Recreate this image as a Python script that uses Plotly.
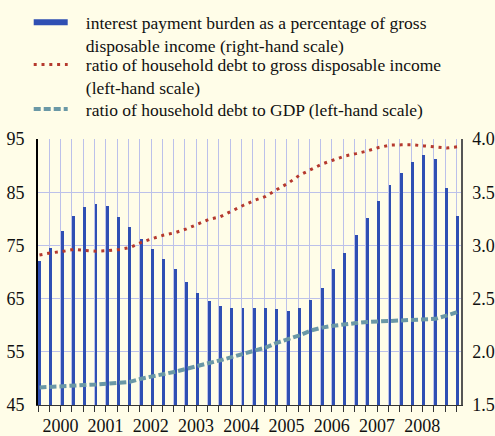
import plotly.graph_objects as go

# quarterly data, 2000 Q1 - 2009 Q2
quarters = [f"{y} Q{q}" for y in range(2000, 2010) for q in range(1, 5)][:38]
years = ["2000", "2001", "2002", "2003", "2004", "2005", "2006", "2007", "2008"]

# interest payment burden, % of gross disposable income (right-hand scale)
interest_burden = [2.85, 2.98, 3.14, 3.28, 3.36, 3.39, 3.37, 3.27, 3.17, 3.06,
                   2.97, 2.87, 2.78, 2.66, 2.55, 2.48, 2.43, 2.41, 2.41, 2.41,
                   2.41, 2.40, 2.38, 2.41, 2.49, 2.60, 2.78, 2.93, 3.10, 3.26,
                   3.42, 3.57, 3.68, 3.78, 3.85, 3.81, 3.54, 3.28]

# household debt to gross disposable income (left-hand scale)
debt_to_income = [73.2, 73.6, 73.85, 74.25, 74.05, 73.9, 74.0, 74.2, 74.6, 75.55,
                  76.3, 76.95, 77.4, 78.1, 79.0, 79.9, 80.4, 81.5, 82.5, 83.45,
                  84.2, 85.5, 86.7, 88.2, 89.2, 90.3, 91.05, 91.8, 92.25, 92.75,
                  93.4, 93.85, 93.9, 93.9, 93.7, 93.5, 93.3, 93.55]

# household debt to GDP (left-hand scale)
debt_to_gdp = [48.3, 48.45, 48.55, 48.65, 48.75, 48.85, 49.0, 49.1, 49.35, 49.95,
               50.35, 50.8, 51.25, 51.8, 52.4, 52.9, 53.4, 54.0, 54.7, 55.2,
               55.8, 56.7, 57.4, 58.1, 59.0, 59.55, 59.9, 60.2, 60.4, 60.6,
               60.7, 60.8, 60.8, 60.9, 60.95, 61.2, 61.8, 62.5]

legend_names = [
    ['interest payment burden as a percentage of gross',
     'disposable income (right-hand scale)'],
    ['ratio of household debt to gross disposable income',
     '(left-hand scale)'],
    ['ratio of household debt to GDP (left-hand scale)'],
]

blue = '#2f4fb3'
red = '#b5392e'
teal = '#6a98a6'
grid = '#bcc1ea'
bg = '#fffde8'
font = 'Liberation Serif, Times New Roman, serif'

qx = list(range(len(quarters)))
year_pos = [4 * i + 1.85 for i in range(len(years))]
grid_pos = [k - 0.13 for k in qx]


def legend_label(lines):
    # a little extra room between the key and the text
    pad = '\u00a0\u00a0\u00a0'
    return '<br>'.join(pad + s for s in lines)


def legend_box(ytop):
    # one legend per series so the rows can sit with even spacing
    return dict(
        xref='container', yref='container', x=0.058, y=ytop,
        xanchor='left', yanchor='top', valign='top',
        font=dict(family=font, size=17.5, color='#111'),
        bgcolor='rgba(0,0,0,0)', itemwidth=34
    )


fig = go.Figure()

fig.add_trace(go.Bar(
    x=qx, y=interest_burden, yaxis='y',
    width=0.26, marker=dict(color=blue, line=dict(width=0)),
    showlegend=False, name='interest payment burden'
))

# legend-only entry so the bar series gets a wide flat key
fig.add_trace(go.Scatter(
    x=[None], y=[None], mode='lines',
    line=dict(color=blue, width=6),
    name=legend_label(legend_names[0]), legend='legend'
))

fig.add_trace(go.Scatter(
    x=qx, y=debt_to_income, yaxis='y2', mode='lines',
    line=dict(color=red, width=3, dash='3px,4.8px'),
    name=legend_label(legend_names[1]), legend='legend2'
))

fig.add_trace(go.Scatter(
    x=qx, y=debt_to_gdp, yaxis='y2', mode='lines',
    line=dict(color=teal, width=4, dash='7px,3px'),
    name=legend_label(legend_names[2]), legend='legend3'
))

fig.update_layout(
    width=495, height=436,
    margin=dict(l=38, r=34, t=139, b=31, autoexpand=False),
    paper_bgcolor=bg, plot_bgcolor=bg,
    font=dict(family=font, size=18, color='#111'),
    showlegend=True,
    legend=legend_box(0.990),
    legend2=legend_box(0.893),
    legend3=legend_box(0.791),
    bargap=0,
    xaxis=dict(
        range=[-0.13, 37.28],
        tickmode='array', tickvals=year_pos, ticktext=years,
        ticks='', showgrid=False, zeroline=False,
        showline=True, linecolor='#333', linewidth=1,
        ticklabelstandoff=4,
        minor=dict(tickvals=grid_pos, ticks='outside', ticklen=6,
                   tickcolor='#333', tickwidth=1,
                   showgrid=True, gridcolor=grid, gridwidth=1)
    ),
    yaxis=dict(
        side='right', range=[1.5, 4.0], tick0=1.5, dtick=0.5,
        tickformat='.1f', showgrid=True, gridcolor=grid, gridwidth=1,
        zeroline=False, showline=True, linecolor='#555', linewidth=1.5,
        ticks='', ticklabelstandoff=6
    ),
    yaxis2=dict(
        overlaying='y', side='left', range=[45, 95], tick0=45, dtick=10,
        showgrid=False, zeroline=False,
        showline=True, linecolor='#000', linewidth=2,
        ticks='', ticklabelstandoff=8
    )
)

# drop the default page margin so the 495x436 figure sits at the window origin
fig.write_html("out.html", config={'displayModeBar': False},
               post_script="document.body.style.margin='0';")
